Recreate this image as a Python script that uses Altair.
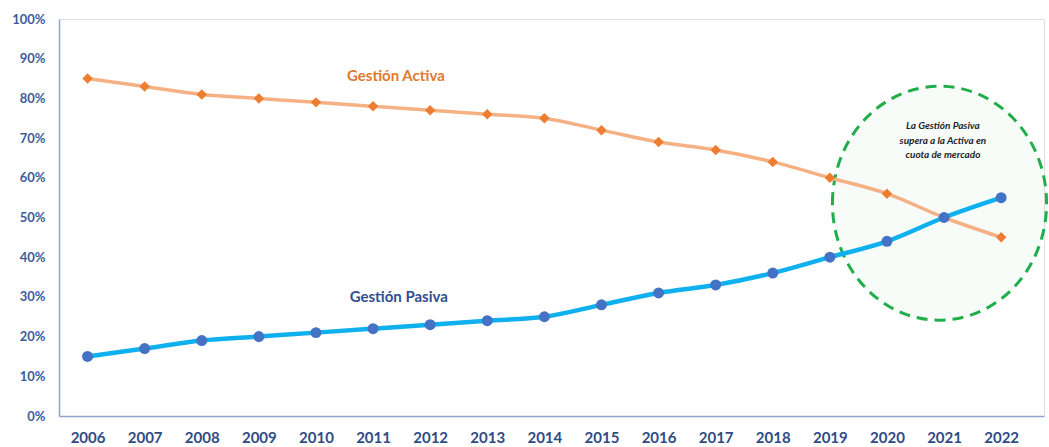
import altair as alt
import pandas as pd

years = list(range(2006, 2023))
activa = [85, 83, 81, 80, 79, 78, 77, 76, 75, 72, 69, 67, 64, 60, 56, 50, 45]
pasiva = [15, 17, 19, 20, 21, 22, 23, 24, 25, 28, 31, 33, 36, 40, 44, 50, 55]

df = pd.DataFrame({"year": years, "activa": activa, "pasiva": pasiva})

x_scale = alt.Scale(domain=[2005.5, 2022.75], nice=False, zero=False)
y_scale = alt.Scale(domain=[0, 100], nice=False)

FONT = "Lato"

xax = alt.Axis(values=years, format="d", labelFontSize=15, labelFont=FONT,
               labelFontWeight="bold", labelColor="#2f4b85", ticks=False,
               grid=False, domainColor="#8fa5c9", domainWidth=1.5,
               labelPadding=14, title=None, labelFlush=False, labelOverlap=False)
yax = alt.Axis(values=list(range(0, 101, 10)), labelExpr="datum.value + '%'",
               labelFontSize=13, labelFont=FONT, labelFontWeight="bold",
               labelColor="#3d5c9a", ticks=False, grid=False,
               domainColor="#8fa5c9", domainWidth=1.5, labelPadding=14,
               title=None, labelOverlap=False, labelFlush=False)


def X():
    return alt.X("year:Q", scale=x_scale, axis=xax)


def Y(f):
    return alt.Y(f, scale=y_scale, axis=yax)


base = alt.Chart(df)

# annotation ellipse
ell_df = pd.DataFrame({"year": [2020.92], "v": [53.6]})
ellipse_fill = alt.Chart(ell_df).mark_point(
    shape="M -0.915,0 A 0.915,1 0 1,1 0.915,0 A 0.915,1 0 1,1 -0.915,0 Z",
    size=54756, filled=True, color="#1fae4a", opacity=0.035, strokeWidth=0
).encode(x=X(), y=Y("v:Q"))
ellipse = alt.Chart(ell_df).mark_point(
    shape="M -0.915,0 A 0.915,1 0 1,1 0.915,0 A 0.915,1 0 1,1 -0.915,0 Z",
    size=54756, filled=False, color="#1fae4a", opacity=1,
    strokeWidth=3, strokeDash=[11, 7]
).encode(x=X(), y=Y("v:Q"))

line_a = base.mark_line(color="#f5b183", strokeWidth=3.5, interpolate="monotone").encode(
    x=X(), y=Y("activa:Q"))
pts_a = base.mark_point(shape="diamond", filled=True, color="#ed7d31", size=110, opacity=1).encode(
    x=X(), y=Y("activa:Q"))

line_p = base.mark_line(color="#0fb0ee", strokeWidth=4.5, interpolate="monotone").encode(
    x=X(), y=Y("pasiva:Q"))
pts_p = base.mark_circle(color="#4472c4", size=120, opacity=1).encode(
    x=X(), y=Y("pasiva:Q"))

lbl_df = pd.DataFrame({
    "year": [2011.4, 2011.45],
    "v": [85.6, 30.0],
    "txt": ["Gestión Activa", "Gestión Pasiva"],
    "col": ["#e07a2e", "#2f4e8f"],
})
labels = alt.Chart(lbl_df).mark_text(font=FONT, fontSize=15, fontWeight="bold",
                                     align="center", baseline="middle").encode(
    x=X(), y=Y("v:Q"),
    text="txt:N", color=alt.Color("col:N", scale=None))

note_df = pd.DataFrame({"year": [2020.98], "v": [73.0]})
note = alt.Chart(note_df).mark_text(
    font=FONT, fontSize=10, fontWeight="bold", fontStyle="italic",
    color="#1f1f1f", align="center", baseline="middle", lineHeight=14.5
).encode(x=X(), y=Y("v:Q"),
         text=alt.value(["La Gestión Pasiva", "supera a la Activa en", "cuota de mercado"]))

chart = alt.layer(ellipse_fill, ellipse, line_a, pts_a, line_p, pts_p, labels, note).properties(
    width=985, height=397,
    autosize=alt.AutoSizeParams(type="none"),
    padding={"left": 59, "top": 19, "right": 5, "bottom": 31},
).configure_view(stroke=None).configure(background="white")

chart.save("out.html", embed_options={"renderer": "svg", "actions": False})
